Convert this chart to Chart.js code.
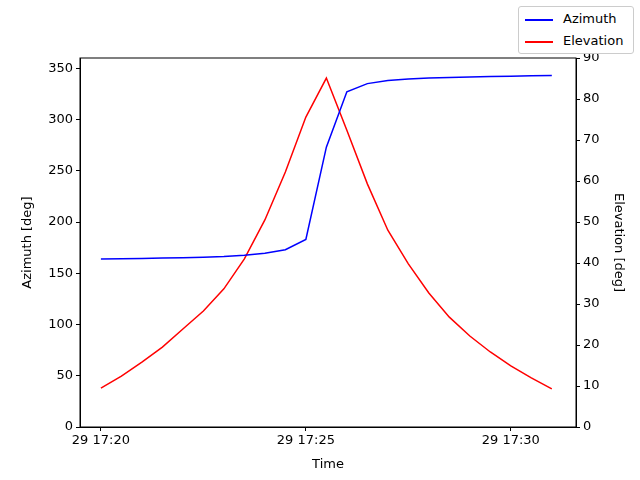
<!DOCTYPE html>
<html><head><script src="https://cdn.jsdelivr.net/npm/chart.js@4"></script>
<style>body{margin:0;font-family:"DejaVu Sans";}#w{position:relative;width:640px;height:480px;}
#lg{position:absolute;left:518px;top:6px;width:114px;height:46px;border:1px solid #ccc;border-radius:3px;background:#fff;font-size:13px;}
.r{position:absolute;left:6px;height:20px;line-height:20px;}.r span{display:inline-block;width:28px;height:2px;vertical-align:middle;margin-right:10px;}</style></head>
<body><div id="w"><canvas id="c" width="640" height="480"></canvas>
<div id="lg"><div class="r" style="top:2px"><span style="background:blue"></span>Azimuth</div><div class="r" style="top:24px"><span style="background:red"></span>Elevation</div></div></div>
<script>
const minutes=[0,0.5,1,1.5,2,2.5,3,3.5,4,4.5,5,5.5,6,6.5,7,7.5,8,8.5,9,9.5,10,10.5,11];
const azimuth=[164,164.2,164.5,164.8,165.2,165.7,166.3,167.5,169.5,173,183,273,327,335,338,339.5,340.5,341,341.5,342,342.3,342.6,343];
const elevation=[9.5,12.4,15.8,19.5,23.9,28.3,33.7,41,50.5,62.2,75.6,85.1,72.4,59.3,48,39.8,32.7,26.8,22.2,18.3,14.9,12,9.3];
const tickLabels={0:"29 17:20",5:"29 17:25",10:"29 17:30"};
const F={family:"DejaVu Sans",size:13};
const G={drawOnChartArea:false,drawTicks:true,tickLength:4,color:'#000'};
const box={id:'box',afterDatasetsDraw(c){const a=c.chartArea,x=c.ctx;x.save();x.strokeStyle='#000';x.lineWidth=1;x.strokeRect(a.left,a.top,a.right-a.left,a.bottom-a.top);x.restore();}};
new Chart(document.getElementById('c'),{type:'line',plugins:[box],data:{datasets:[
{label:'Azimuth',data:minutes.map((m,i)=>({x:m,y:azimuth[i]})),borderColor:'blue',yAxisID:'y',pointRadius:0,borderWidth:1.5,tension:0},
{label:'Elevation',data:minutes.map((m,i)=>({x:m,y:elevation[i]})),borderColor:'red',yAxisID:'y1',pointRadius:0,borderWidth:1.5,tension:0}]},
options:{responsive:false,animation:false,layout:{padding:{top:58,left:20,right:14,bottom:8}},
plugins:{legend:{display:false},tooltip:{enabled:false}},
scales:{
x:{type:'linear',min:-0.51,max:11.59,grid:G,border:{color:'#000'},
 afterBuildTicks:a=>{a.ticks=[0,5,10].map(v=>({value:v}))},
 ticks:{color:'#000',font:F,maxRotation:0,padding:2,callback:v=>tickLabels[v]},
 title:{display:true,text:'Time',color:'#000',font:F,padding:{top:2,bottom:0}},afterFit:s=>{s.height=45}},
y:{position:'left',min:0,max:360,grid:G,border:{color:'#000'},
 afterBuildTicks:a=>{a.ticks=[0,50,100,150,200,250,300,350].map(v=>({value:v}))},
 ticks:{color:'#000',font:F,padding:3},title:{display:true,text:'Azimuth [deg]',color:'#000',font:F,padding:0},afterFit:s=>{s.width=60}},
y1:{position:'right',min:0,max:90,grid:G,border:{color:'#000'},
 ticks:{color:'#000',font:F,stepSize:10,padding:3},title:{display:true,text:'Elevation [deg]',color:'#000',font:F,padding:0},afterFit:s=>{s.width=50}}
}}});
</script></body></html>
